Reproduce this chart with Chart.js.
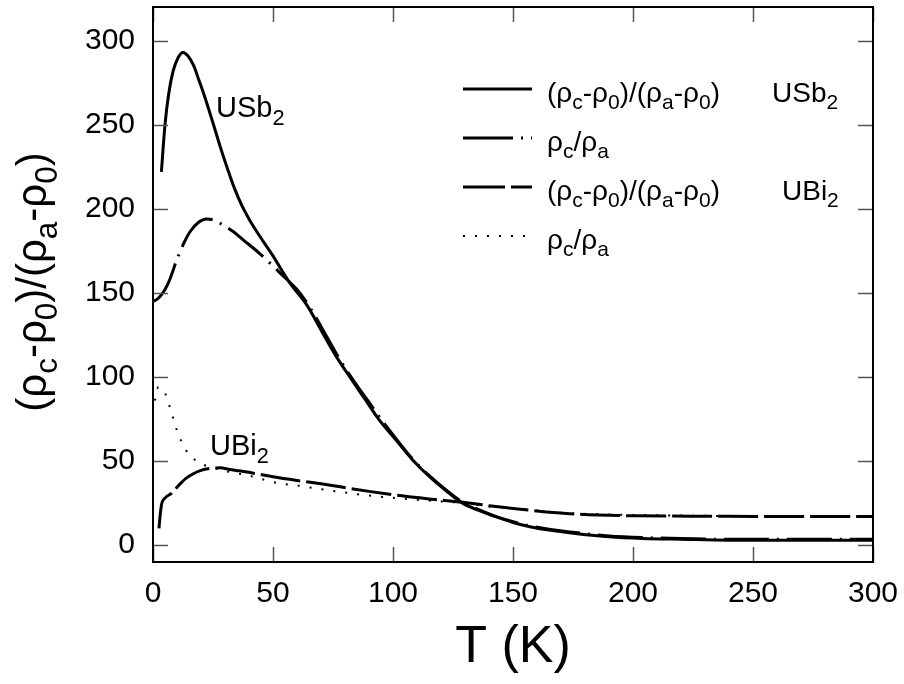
<!DOCTYPE html>
<html>
<head>
<meta charset="utf-8">
<script src="https://cdn.jsdelivr.net/npm/chart.js@4.4.1/dist/chart.umd.min.js"></script>
<style>
  html, body { margin: 0; padding: 0; background: #fff; }
  #wrap { width: 904px; height: 684px; }
</style>
</head>
<body>
<div id="wrap"><canvas id="chart" width="904" height="684"></canvas></div>
<script>
// USb2 (rho_c - rho_0)/(rho_a - rho_0), solid
const sbNormT = [3.5, 5, 6.5, 8.4, 10.5, 12.5, 14.5, 17, 19, 21, 25, 28, 31, 34, 37, 40, 43, 46, 50, 53, 57, 64, 70, 76, 82, 88, 94, 101, 108, 115, 122, 129, 136, 143, 150, 157, 165, 176, 190, 204, 220, 240, 270, 300];
const sbNormY = [222, 250, 268, 282, 290, 293, 291, 285, 277, 269, 251, 237, 224, 212, 202, 194, 187, 180.5, 172, 165, 156, 143, 128, 113, 100, 87.5, 75, 63, 51, 41, 32.5, 25, 20.5, 16.8, 13.5, 11, 9, 7, 5, 4, 3.5, 3, 3, 3];

// USb2 rho_c/rho_a, dash-dot
const sbRatioT = [0, 1.5, 3, 5, 7, 10, 13, 15.5, 19, 22.3, 26, 29, 33.4, 37.6, 44, 50, 55, 60, 66, 72, 78, 84, 90, 96, 102, 108, 115, 122, 129, 136, 143, 150, 157, 165, 176, 190, 204, 220, 240, 270, 300];
const sbRatioY = [145, 146, 148, 152, 158, 170, 180, 186.5, 192, 194, 193, 190.5, 186.5, 181.5, 174, 166, 159, 152, 140, 125, 110, 97, 85, 73, 62, 51.5, 41.5, 33, 25.5, 21, 17, 14, 11.5, 9.5, 7.5, 5.5, 4.5, 4, 3.5, 3.5, 3.5];

// UBi2 (rho_c - rho_0)/(rho_a - rho_0), dashed
const biNormT = [2.5, 3, 3.6, 5, 7.8, 11, 14, 16.8, 20, 23.7, 27.9, 32, 36, 43, 50, 60, 70, 78, 90, 101, 115, 129, 140, 157, 176, 200, 240, 270, 300];
const biNormY = [10, 18, 24.5, 28, 31, 36, 40, 42.5, 44.5, 45.6, 46, 45, 44.2, 42.5, 40.7, 38.5, 36.5, 34.7, 32, 29.8, 27.5, 25.5, 23.5, 20.8, 18.5, 17.5, 17.2, 17, 17];

// UBi2 rho_c/rho_a, dotted
const biRatioT = [0.8, 2.2, 3.5, 5, 6.8, 8.4, 9.9, 11.9, 14.7, 18.2, 21.6, 26.5, 32, 39, 46, 52.8, 60, 66.6, 78, 90, 100, 110, 120, 130, 140, 150, 169, 190, 210, 240, 270, 300];
const biRatioY = [86, 94, 93, 90.5, 83, 75.5, 68.5, 61.5, 54.5, 50, 47.5, 45.5, 43.5, 41.7, 39, 36.7, 35.5, 34, 31.7, 29.5, 28.2, 27, 26, 25, 23, 22, 19.3, 18.3, 17.8, 17.3, 17, 16.8];

const xTicks = [0, 50, 100, 150, 200, 250, 300];
const yTicks = [0, 50, 100, 150, 200, 250, 300];

const FONT = '"Liberation Sans", Arial, sans-serif';
const SUB = 0.75;

function pts(xs, ys) {
    return xs.map((x, i) => ({ x: x, y: ys[i] }));
}

// draw text made of runs; sub runs are smaller and lowered
function drawRich(ctx, runs, x, y, size) {
    let cx = x;
    for (const [txt, sub] of runs) {
        const s = sub ? size * SUB : size;
        ctx.font = s + 'px ' + FONT;
        ctx.fillText(txt, cx, sub ? y + size * 0.26 : y);
        cx += ctx.measureText(txt).width;
    }
    return cx;
}
function richWidth(ctx, runs, size) {
    let w = 0;
    for (const [txt, sub] of runs) {
        ctx.font = (sub ? size * SUB : size) + 'px ' + FONT;
        w += ctx.measureText(txt).width;
    }
    return w;
}

const normRuns = [['(ρ', 0], ['c', 1], ['-ρ', 0], ['0', 1], [')/(ρ', 0], ['a', 1], ['-ρ', 0], ['0', 1], [')', 0]];
const ratioRuns = [['ρ', 0], ['c', 1], ['/ρ', 0], ['a', 1]];

const legendRows = [
    { dash: [], runs: normRuns, tail: [['USb', 0], ['2', 1]], tailX: 772 },
    { dash: [50, 8, 2, 8], runs: ratioRuns },
    { dash: [42, 6], runs: normRuns, tail: [['UBi', 0], ['2', 1]], tailX: 782 },
    { dash: [2, 10], runs: ratioRuns }
];

const decor = {
    id: 'decor',
    afterDraw(chart) {
        const ctx = chart.ctx;
        const a = chart.chartArea;
        const xs = chart.scales.x;
        const ys = chart.scales.y;
        ctx.save();

        // inward ticks on all four sides
        ctx.strokeStyle = '#555';
        ctx.lineWidth = 1.5;
        ctx.beginPath();
        for (const v of yTicks) {
            const py = Math.round(ys.getPixelForValue(v)) + 0.5;
            ctx.moveTo(a.left, py); ctx.lineTo(a.left + 15, py);
            ctx.moveTo(a.right, py); ctx.lineTo(a.right - 15, py);
        }
        for (const v of xTicks) {
            const px = Math.round(xs.getPixelForValue(v)) + 0.5;
            ctx.moveTo(px, a.bottom); ctx.lineTo(px, a.bottom - 15);
            ctx.moveTo(px, a.top); ctx.lineTo(px, a.top + 15);
        }
        ctx.stroke();

        // frame
        ctx.strokeStyle = '#000';
        ctx.lineWidth = 2;
        ctx.strokeRect(a.left, a.top, a.right - a.left, a.bottom - a.top);

        // in-plot labels
        ctx.fillStyle = '#000';
        ctx.textBaseline = 'alphabetic';
        ctx.textAlign = 'left';
        drawRich(ctx, [['USb', 0], ['2', 1]], 216, 117, 29);
        drawRich(ctx, [['UBi', 0], ['2', 1]], 210, 455, 29);

        // legend
        legendRows.forEach((row, i) => {
            const ly = 89 + i * 49;
            ctx.strokeStyle = '#000';
            ctx.lineWidth = i === 3 ? 2 : 3;
            ctx.setLineDash(row.dash);
            ctx.beginPath();
            ctx.moveTo(463, ly);
            ctx.lineTo(532, ly);
            ctx.stroke();
            ctx.setLineDash([]);
            drawRich(ctx, row.runs, 547, ly + 13, 28);
            if (row.tail) drawRich(ctx, row.tail, row.tailX, ly + 13, 28);
        });

        // y axis title
        const ySize = 42;
        const w = richWidth(ctx, normRuns, ySize);
        ctx.save();
        ctx.translate(46, 282);
        ctx.rotate(-Math.PI / 2);
        drawRich(ctx, normRuns, -w / 2, 0, ySize);
        ctx.restore();

        // x axis title
        ctx.font = '52px ' + FONT;
        ctx.textAlign = 'center';
        ctx.fillText('T (K)', (a.left + a.right) / 2, 662);

        ctx.restore();
    }
};

const lineStyle = {
    showLine: true,
    pointRadius: 0,
    borderColor: '#000',
    backgroundColor: '#000',
    fill: false,
    cubicInterpolationMode: 'monotone'
};

new Chart(document.getElementById('chart'), {
    type: 'scatter',
    data: {
        datasets: [
            Object.assign({ label: 'USb2 norm', data: pts(sbNormT, sbNormY), borderWidth: 3 }, lineStyle),
            Object.assign({ label: 'USb2 ratio', data: pts(sbRatioT, sbRatioY), borderWidth: 3, borderDash: [45, 8, 2, 8] }, lineStyle),
            Object.assign({ label: 'UBi2 norm', data: pts(biNormT, biNormY), borderWidth: 3, borderDash: [40, 6] }, lineStyle),
            Object.assign({ label: 'UBi2 ratio', data: pts(biRatioT, biRatioY), borderWidth: 2, borderDash: [2, 10] }, lineStyle)
        ]
    },
    options: {
        responsive: false,
        animation: false,
        devicePixelRatio: 1,
        layout: { padding: { top: 7, right: 31, left: 0, bottom: 0 } },
        plugins: {
            legend: { display: false },
            tooltip: { enabled: false }
        },
        scales: {
            x: {
                type: 'linear',
                min: 0,
                max: 300,
                grid: { display: false, drawTicks: false },
                border: { display: false },
                afterBuildTicks: (s) => { s.ticks = xTicks.map(v => ({ value: v })); },
                afterFit: (s) => { s.height = 122; s.paddingLeft = 0; s.paddingRight = 0; },
                ticks: { color: '#000', padding: 14, maxRotation: 0, font: { family: FONT, size: 30 } }
            },
            y: {
                type: 'linear',
                min: -10,
                max: 320,
                grid: { display: false, drawTicks: false },
                border: { display: false },
                afterBuildTicks: (s) => { s.ticks = yTicks.map(v => ({ value: v })); },
                afterFit: (s) => { s.width = 153; s.paddingTop = 0; s.paddingBottom = 0; },
                ticks: { color: '#000', padding: 18, font: { family: FONT, size: 30 } }
            }
        }
    },
    plugins: [decor]
});
</script>
</body>
</html>
